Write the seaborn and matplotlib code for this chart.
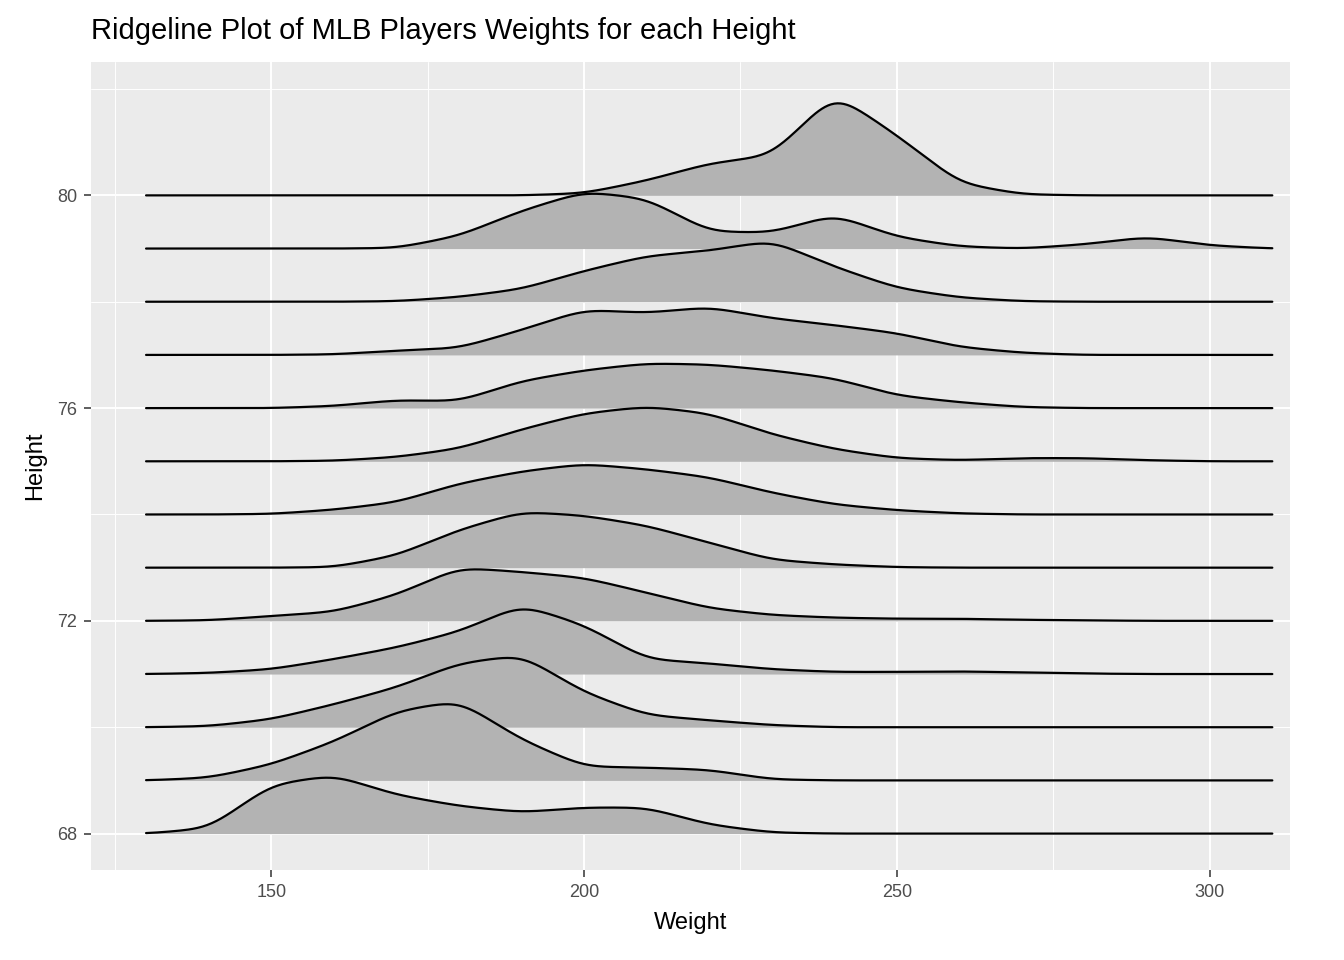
import numpy as np
import pandas as pd
import matplotlib.pyplot as plt
import seaborn as sns

# Ridge heights (density scaled, in "Height" units), at weights 130..310 step 10
weights = np.arange(130, 311, 10)
heights = [68, 69, 70, 71, 72, 73, 74, 75, 76, 77, 78, 79, 80]
ridges = {
    68: [0, .10, .92, 1.10, .73, .52, .40, .49, .49, .17, .02, 0, 0, 0, 0, 0, 0, 0, 0],
    69: [0, .05, .30, .73, 1.30, 1.50, .77, .26, .24, .20, .02, 0, 0, 0, 0, 0, 0, 0, 0],
    70: [0, .02, .15, .43, .75, 1.20, 1.36, .66, .23, .13, .04, 0, 0, 0, 0, 0, 0, 0, 0],
    71: [0, .02, .09, .28, .50, .80, 1.30, .92, .28, .20, .09, .04, .04, .05, .03, .01, 0, 0, 0],
    72: [0, .01, .09, .17, .49, 1.00, .92, .81, .53, .24, .11, .06, .04, .04, .02, .01, 0, 0, 0],
    73: [0, 0, 0, .01, .23, .71, 1.05, .98, .79, .47, .15, .06, .01, 0, 0, 0, 0, 0, 0],
    74: [0, 0, .01, .09, .23, .58, .81, .95, .85, .70, .41, .19, .08, .02, 0, 0, 0, 0, 0],
    75: [0, 0, 0, .01, .08, .24, .60, .90, 1.03, .90, .51, .23, .06, .02, .06, .06, .02, 0, 0],
    76: [0, 0, 0, .04, .15, .13, .51, .71, .84, .82, .71, .56, .24, .11, .02, 0, 0, 0, 0],
    77: [0, 0, 0, .01, .08, .13, .47, .85, .79, .90, .69, .56, .41, .15, .04, 0, 0, 0, 0],
    78: [0, 0, 0, 0, .01, .09, .24, .58, .86, .96, 1.15, .66, .26, .08, .01, 0, 0, 0, 0],
    79: [0, 0, 0, 0, .01, .24, .71, 1.07, .94, .32, .30, .64, .22, .04, 0, .08, .22, .06, 0],
    80: [0, 0, 0, 0, 0, 0, 0, .04, .28, .60, .75, 1.92, 1.13, .23, .02, 0, 0, 0, 0],
}

sns.set_theme(style="darkgrid", rc={
    "axes.facecolor": "#EBEBEB", "grid.color": "white", "figure.facecolor": "white",
})
plt.rcParams['font.family'] = ['Liberation Sans', 'DejaVu Sans']

fig = plt.figure(figsize=(13.44, 9.6), dpi=100)
ax = fig.add_axes([0.0677, 0.094, 0.892, 0.841])

fine = np.linspace(130, 310, 721)
kx = np.arange(-10, 10.01, 0.25)
kern = np.exp(-0.5 * (kx / 2.5) ** 2)
kern /= kern.sum()

for i, h in enumerate(heights):
    raw = np.interp(fine, weights, ridges[h])
    pad = np.pad(raw, len(kx) // 2, mode="edge")
    dens = np.convolve(pad, kern, mode="valid")[:len(fine)]
    z = 100 - i * 2
    ax.fill_between(fine, h, h + dens, color="#B3B3B3", lw=0, zorder=z)
    ax.plot(fine, h + dens, color="black", lw=1.6, zorder=z + 1)

ax.set_xlim(121.2, 312.8)
ax.set_ylim(67.32, 82.5)
ax.set_xticks([150, 200, 250, 300])
ax.set_xticks([125, 175, 225, 275], minor=True)
ax.set_yticks([68, 72, 76, 80])
ax.set_yticks([70, 74, 78, 82], minor=True)
ax.grid(which="major", color="white", lw=1.4)
ax.grid(which="minor", color="white", lw=0.7)
ax.tick_params(axis="both", which="major", labelsize=13, labelcolor="#4D4D4D",
               length=5, width=1.1, color="#333333", bottom=True, left=True, pad=5)
ax.tick_params(which="minor", length=0)
for s in ax.spines.values():
    s.set_visible(False)
ax.set_xlabel("Weight", fontsize=17, color="black", labelpad=8)
ax.set_ylabel("Height", fontsize=17, color="black", labelpad=8)
fig.text(0.0677, 0.968, "Ridgeline Plot of MLB Players Weights for each Height",
         fontsize=21, ha="left", va="center", color="black")

plt.savefig("out.png", dpi=100)
